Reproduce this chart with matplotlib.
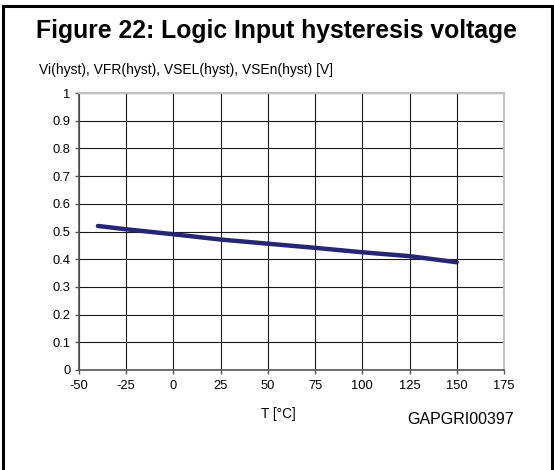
import matplotlib
matplotlib.use("Agg")
import matplotlib.pyplot as plt
from matplotlib.patches import Rectangle

temps = [-40, -25, 0, 25, 50, 75, 100, 125, 150]
vhyst = [0.520, 0.508, 0.490, 0.471, 0.456, 0.441, 0.425, 0.411, 0.389]
xticks = [-50, -25, 0, 25, 50, 75, 100, 125, 150, 175]
yticks = [0, 0.1, 0.2, 0.3, 0.4, 0.5, 0.6, 0.7, 0.8, 0.9, 1]
ytick_labels = ["0", "0.1", "0.2", "0.3", "0.4", "0.5", "0.6", "0.7", "0.8", "0.9", "1"]

plt.rcParams['font.family'] = ['Liberation Sans', 'DejaVu Sans']
plt.rcParams['axes.unicode_minus'] = False

W, H = 554, 470
fig = plt.figure(figsize=(W/100, H/100), dpi=100)
ax = fig.add_axes([79/W, 1-370/H, (504-79)/W, (370-93)/H])

ax.plot(temps, vhyst, color='#262673', lw=3.2, solid_capstyle='round', zorder=3)

ax.set_xlim(-50, 175)
ax.set_ylim(0, 1)
ax.set_xticks(xticks)
ax.set_yticks(yticks)
ax.set_yticklabels(ytick_labels)
ax.grid(True, color='#1a1a1a', lw=0.8)
ax.set_axisbelow(True)
for s in ['top', 'right']:
    ax.spines[s].set_color('#c0c0c0')
    ax.spines[s].set_linewidth(1.5)
for s in ['left', 'bottom']:
    ax.spines[s].set_color('#555555')
    ax.spines[s].set_linewidth(1.2)
ax.tick_params(axis='both', direction='out', length=3, width=1, color='#555555',
               labelsize=9.3, pad=3)
ax.tick_params(axis='x', pad=4)

fig.text(277/W, 1-31/H, "Figure 22: Logic Input hysteresis voltage", ha='center', va='center',
         fontsize=17.8, fontweight='bold')
fig.text(39/W, 1-70/H, "Vi(hyst), VFR(hyst), VSEL(hyst), VSEn(hyst) [V]", ha='left', va='center',
         fontsize=10)
fig.text(278/W, 1-414/H, "T [°C]", ha='center', va='center', fontsize=9.8)
fig.text(461/W, 1-420/H, "GAPGRI00397", ha='center', va='center', fontsize=11.5)

fig.patches.append(Rectangle((3.5/W, -0.05), (551.5-3.5)/W, (1-5.5/H)+0.05, transform=fig.transFigure,
                             fill=False, edgecolor='black', lw=2.2))

fig.savefig("out.png", dpi=100)
